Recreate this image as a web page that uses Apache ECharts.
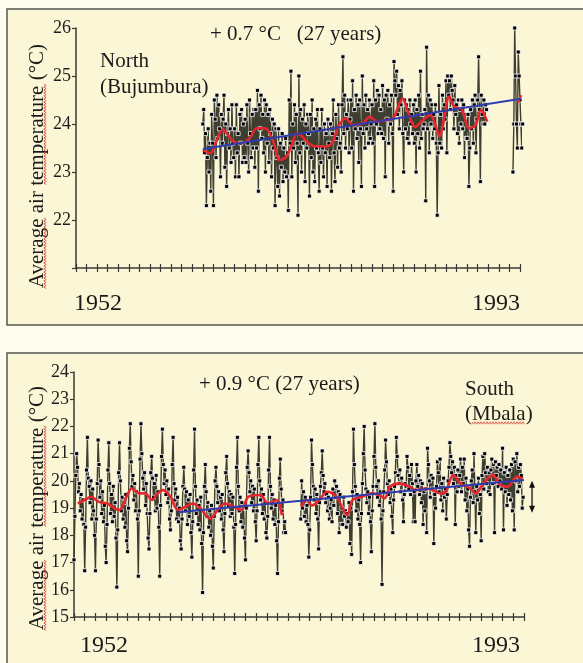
<!DOCTYPE html>
<html><head><meta charset="utf-8">
<script src="https://cdn.jsdelivr.net/npm/echarts@6/dist/echarts.min.js"></script>
<style>html,body{margin:0;padding:0;background:#fdfcef;}#c{width:583px;height:663px;}</style>
</head><body><div id="c"></div>
<script>
// ---------- North (Bujumbura): monthly values, one row per year (Jan..Dec) ----------
const northYears = [1964,1965,1966,1967,1968,1969,1970,1971,1972,1973,1974,1975,1976,1977,1978,1979,1980,1981,1982,1983,1984,1985,1986,1987,1988,1989,1990,1991,1992,1993,1994];
const northValues = [
  [24.0,24.3,23.4,23.8,22.3,23.3,23.9,23.0,23.6,22.6,24.2,23.6],
  [22.3,24.5,24.1,23.3,24.6,23.7,24.4,23.9,22.9,24.2,23.6,24.1],
  [24.6,23.1,24.0,22.7,23.8,24.3,23.5,23.9,23.2,24.4,23.6,23.3],
  [23.9,22.9,24.4,23.4,23.8,22.9,24.2,23.6,24.3,23.2,24.0,23.3],
  [24.1,23.2,24.4,23.6,23.0,24.5,23.8,23.3,24.2,23.5,24.3,23.1],
  [24.3,23.5,24.7,22.6,24.4,23.9,24.6,23.7,24.2,23.4,24.5,23.0],
  [24.4,23.6,24.2,23.2,24.3,23.8,22.9,24.1,23.5,24.0,22.3,23.9],
  [23.3,22.7,23.9,22.5,23.6,23.1,23.8,22.8,23.5,23.0,23.7,22.9],
  [23.4,22.2,24.5,23.6,25.1,22.9,24.0,23.5,24.4,23.2,24.2,23.6],
  [22.1,25.0,23.4,24.3,23.0,24.1,23.6,24.4,22.8,24.0,23.5,24.2],
  [23.8,22.5,24.2,23.3,24.5,23.0,23.9,22.8,24.1,23.5,24.3,23.4],
  [22.6,23.9,23.2,24.3,23.5,22.9,24.0,23.4,23.8,22.7,24.1,23.6],
  [23.3,24.0,22.6,23.8,24.5,23.4,22.8,24.2,23.7,23.1,24.4,23.5],
  [23.6,23.0,24.4,25.4,23.8,24.6,23.5,24.2,23.9,24.5,23.4,24.1],
  [24.5,23.5,24.9,22.6,24.3,23.9,24.6,23.7,24.4,23.2,24.5,23.9],
  [22.7,25.0,23.8,24.4,23.5,24.6,23.9,24.3,23.6,24.5,23.7,24.0],
  [24.4,23.6,24.9,22.7,24.5,24.0,24.7,23.8,24.6,23.9,24.3,23.8],
  [24.8,23.7,24.5,22.9,24.6,24.1,24.7,23.6,24.4,24.0,24.6,23.8],
  [22.6,25.3,24.9,24.6,25.1,24.2,24.8,23.9,24.7,24.4,24.9,23.8],
  [23.0,24.5,23.9,24.4,23.7,24.3,23.6,24.5,24.0,24.2,23.8,24.4],
  [23.6,24.5,23.0,24.3,23.8,24.6,23.5,25.1,23.7,24.2,23.9,24.0],
  [24.3,22.4,25.6,23.9,24.6,23.4,24.5,24.0,24.4,23.7,24.2,23.9],
  [24.4,23.6,22.1,23.4,24.8,23.6,24.2,23.5,24.6,23.9,24.4,24.1],
  [24.9,23.4,25.0,24.6,24.9,24.3,25.0,24.7,24.5,23.9,24.8,24.2],
  [24.4,23.8,24.5,23.6,24.3,24.0,24.5,23.9,24.4,23.3,24.2,23.7],
  [23.7,24.2,22.7,23.5,24.3,23.9,24.5,23.6,24.4,24.6,23.4,24.1],
  [24.5,25.4,24.3,22.8,24.6,24.2,24.0,24.5,24.0,24.4,24.3,null],
  [null,null,null,null,null,null,null,null,null,null,null,null],
  [null,null,null,null,null,null,null,null,null,null,null,null],
  [null,null,null,null,23.0,24.0,26.0,25.0,24.0,23.5,25.5,25.0],
  [24.5,24.0,23.5,24.0,null,null,null,null,null,null,null,null]
];
// running mean (red)
const northMeanX = [1964.0,1964.7,1965.2,1965.9,1966.4,1966.9,1967.6,1968.4,1969.1,1969.9,1970.6,1971.3,1971.9,1972.4,1972.9,1973.4,1974.0,1974.7,1975.5,1976.2,1976.8,1977.5,1978.2,1979.1,1979.8,1980.5,1981.3,1982.0,1982.6,1982.9,1983.4,1984.1,1984.8,1985.5,1986.1,1986.4,1986.8,1987.3,1987.8,1988.5,1989.2,1989.8,1990.3,1990.9,null,1993.8,1994.1];
const northMeanY = [23.46,23.39,23.6,23.88,23.77,23.63,23.6,23.7,23.91,23.91,23.67,23.25,23.32,23.56,23.8,23.74,23.6,23.53,23.53,23.6,23.94,24.12,23.98,24.01,24.15,24.05,24.08,24.12,24.43,24.53,24.26,23.94,24.08,24.19,23.91,23.74,24.08,24.57,24.36,24.29,23.91,23.98,24.29,24.05,null,24.45,24.6];
// linear trend (blue)
const northTrendX = [1964.0, 1994.5];
const northTrendY = [23.48, 24.54];

// ---------- South (Mbala) ----------
const southYears = [1952,1953,1954,1955,1956,1957,1958,1959,1960,1961,1962,1963,1964,1965,1966,1967,1968,1969,1970,1971,1972,1973,1974,1975,1976,1977,1978,1979,1980,1981,1982,1983,1984,1985,1986,1987,1988,1989,1990,1991,1992,1993];
const southValues = [
  [17.1,18.7,20.2,21.0,20.5,19.6,19.9,18.9,19.5,18.6,19.3,18.4],
  [16.7,18.3,20.4,21.6,20.1,19.8,19.2,20.0,18.6,19.7,18.9,18.0],
  [16.7,18.6,19.9,21.5,20.6,19.4,20.0,18.8,19.6,18.5,19.1,17.6],
  [17.0,18.4,20.4,21.4,19.9,18.8,19.5,18.5,19.8,18.7,19.2,17.9],
  [16.1,18.2,20.3,21.4,20.0,18.9,19.4,18.6,19.2,18.3,19.5,17.8],
  [17.4,19.0,21.2,22.1,20.7,19.8,20.2,19.3,19.9,18.9,19.6,18.6],
  [16.5,18.9,20.8,22.1,21.0,20.1,19.7,20.3,19.1,19.9,18.8,17.9],
  [17.5,18.8,20.3,20.9,20.1,19.4,19.9,18.9,20.2,19.0,19.6,18.3],
  [16.5,19.1,20.9,21.9,20.6,19.9,20.4,19.5,20.0,19.2,19.7,18.6],
  [18.2,18.9,20.6,21.6,19.9,19.3,19.7,18.6,19.4,18.5,19.0,17.8],
  [17.5,18.6,19.8,20.5,19.7,18.9,19.6,18.4,19.3,18.7,19.5,18.1],
  [17.2,18.5,20.4,21.9,19.8,18.8,19.3,18.4,19.1,18.2,19.4,17.7],
  [15.9,18.1,19.8,20.6,19.6,18.7,19.2,18.3,18.9,18.0,19.1,17.6],
  [16.8,18.7,20.0,20.5,19.8,19.2,19.6,18.9,19.4,18.6,19.5,18.2],
  [17.4,18.8,20.3,20.9,19.9,19.1,19.6,18.7,19.5,18.8,19.4,18.3],
  [16.6,18.4,20.5,21.6,19.8,18.9,19.4,18.5,19.2,18.3,19.0,17.9],
  [17.1,19.0,20.5,21.1,20.3,19.6,20.0,19.2,19.8,18.9,19.7,18.5],
  [17.8,18.9,20.6,21.6,20.0,19.3,19.7,18.8,19.5,18.6,19.2,18.1],
  [17.9,18.7,20.4,21.6,19.8,19.0,19.5,18.6,19.3,18.4,19.1,17.8],
  [16.6,18.5,20.1,20.8,19.7,18.9,19.3,18.1,18.5,18.1,null,null],
  [null,null,null,null,null,null,null,null,null,null,null,null],
  [null,null,18.6,20.0,19.0,19.6,18.7,19.4,18.5,19.1,18.4,17.2],
  [18.2,19.4,21.5,20.6,19.8,19.3,19.7,18.8,19.5,18.6,17.5,19.2],
  [19.8,20.3,21.1,20.2,19.6,19.9,19.2,19.5,18.9,19.4,18.6,19.0],
  [19.3,18.5,19.7,19.1,20.0,19.4,19.8,18.8,19.6,18.1,19.5,18.4],
  [19.0,18.4,19.4,18.7,18.9,18.3,18.8,18.5,19.2,17.7,19.0,17.3],
  [19.6,21.9,20.6,19.8,18.9,19.5,18.6,19.3,18.4,17.0,18.8,19.9],
  [21.0,22.0,20.4,19.7,19.2,19.6,18.8,19.4,18.5,17.4,18.9,19.8],
  [20.9,22.1,20.5,19.8,19.4,20.0,19.1,19.6,18.6,16.2,18.9,19.6],
  [20.4,21.5,20.7,19.9,19.5,20.0,19.2,19.7,18.7,18.1,19.3,19.8],
  [20.3,21.6,20.9,20.2,19.9,20.4,19.6,20.1,19.3,18.5,19.5,19.9],
  [19.8,20.9,20.5,19.7,20.2,19.5,20.6,19.9,18.5,19.6,18.5,20.0],
  [20.6,19.8,20.2,19.5,20.0,19.2,19.9,18.4,19.6,18.9,19.7,18.1],
  [21.2,20.6,20.0,19.4,20.2,19.7,20.1,17.7,19.5,19.0,19.8,20.7],
  [20.3,19.6,20.8,19.3,19.9,18.9,20.1,19.4,19.7,18.6,19.5,20.0],
  [20.5,21.4,20.9,20.3,20.7,19.9,20.5,18.4,20.2,19.6,20.4,19.8],
  [20.2,20.8,19.6,20.5,19.9,20.8,19.3,20.1,18.9,19.7,18.2,17.6],
  [19.4,20.0,20.4,19.2,21.0,19.6,18.1,19.8,19.3,20.1,18.8,19.5],
  [17.8,20.2,20.9,19.7,21.0,20.3,19.9,20.5,19.6,20.3,19.5,20.4],
  [20.8,19.9,20.6,18.1,20.7,20.2,20.5,19.8,20.6,20.0,20.4,19.7],
  [21.2,18.2,20.3,19.6,20.5,19.1,20.2,19.5,20.4,19.3,20.6,18.9],
  [20.8,18.2,20.7,20.0,21.0,19.6,20.5,19.8,20.6,20.2,19.0,19.4]
];
const southMeanX = [1952.35,1953.0,1953.6,1954.3,1955.1,1956.2,1956.9,1957.4,1958.1,1958.6,1959.3,1959.8,1960.3,1961.0,1961.7,1962.4,1963.1,1963.8,1964.7,1965.4,1966.1,1966.9,1967.6,1968.3,1969.4,1970.1,1970.9,1971.4,null,1973.2,1973.7,1974.2,1974.9,1975.6,1976.5,1977.0,1977.5,1978.0,1978.9,1979.8,1980.5,1981.0,1981.5,1982.4,1983.3,1983.9,1984.8,1985.5,1986.2,1986.7,1987.4,1988.1,1989.0,1989.5,1990.2,1991.1,1991.8,1992.5,1993.3,1993.9];
const southMeanY = [19.17,19.3,19.42,19.23,19.17,18.93,19.42,19.72,19.54,19.54,19.3,19.54,19.66,19.42,18.93,19.05,19.17,18.99,18.62,18.93,19.17,19.05,18.93,19.42,19.48,19.17,19.3,18.74,null,19.05,19.3,19.1,19.3,19.6,19.42,19.05,18.74,19.3,19.42,19.54,19.48,19.36,19.79,19.9,19.79,19.66,19.72,19.66,19.54,19.6,20.21,19.9,19.72,19.54,19.9,20.21,19.85,19.79,20.15,20.09];
const southTrendX = [1961.7, 1994.0];
const southTrendY = [18.85, 20.03];
const southRangeY = [18.87, 19.97];   // double-arrow span
const southArrowYear = 1994.75;

const northTicks = [22,23,24,25,26];
const southTicks = [15,16,17,18,19,20,21,22,23,24];

// ---------- helpers ----------
function monthly(years, rows){
  const out = [];
  years.forEach((y,i)=>rows[i].forEach((v,m)=>out.push([y + m/12, v==null ? '-' : v])));
  return out;
}
function pairs(xs, ys){ return xs.map((x,i)=> x==null ? ['-','-'] : [x, ys[i]]); }

const SERIF = "'Liberation Serif','Times New Roman',serif";
const axisCol = '#3a3a34';

function xAxes(gi){
  const base = {type:'value', gridIndex:gi, min:1952, max:1994, interval:1, position:'bottom', offset:0,
    axisLabel:{show:false}, splitLine:{show:false}};
  return [
    Object.assign({}, base, {axisLine:{show:true, onZero:false, lineStyle:{color:axisCol, width:1.5}},
      axisTick:{show:true, length:4, lineStyle:{color:axisCol, width:1.2}}}),
    Object.assign({}, base, {axisLine:{show:false, onZero:false}, axisTick:{show:true, inside:true, length:4, lineStyle:{color:axisCol, width:1.2}}})
  ];
}
function yAxis(gi, min, max, ticks){
  return {type:'value', gridIndex:gi, min:min, max:max, interval:1,
    axisLine:{show:true, lineStyle:{color:axisCol, width:1.5}},
    axisTick:{show:true, length:4, lineStyle:{color:axisCol, width:1.2}},
    splitLine:{show:false},
    axisLabel:{margin:5, color:'#1e1e1e', fontFamily:SERIF, fontSize:18,
      formatter: v => ticks.indexOf(v) >= 0 ? String(v) : ''}};
}
function dataSeries(xi, yi, data){
  return {type:'line', xAxisIndex:xi, yAxisIndex:yi, data:data, clip:false, z:2,
    symbol:'rect', symbolSize:4, showSymbol:true, showAllSymbol:true,
    itemStyle:{color:'#000', borderColor:'#fff', borderWidth:0.8},
    lineStyle:{color:'#3e3e30', width:1.4}, animation:false, connectNulls:false};
}
function meanSeries(xi, yi, data){
  return {type:'line', xAxisIndex:xi, yAxisIndex:yi, data:data, clip:false, z:3,
    symbol:'none', smooth:0.35, lineStyle:{color:'#e5262c', width:2.6}, animation:false};
}
function trendSeries(xi, yi, data){
  return {type:'line', xAxisIndex:xi, yAxisIndex:yi, data:data, clip:false, z:4,
    symbol:'none', lineStyle:{color:'#2d3cae', width:2}, animation:false};
}

const chart = echarts.init(document.getElementById('c'), null, {renderer:'canvas'});
chart.setOption({
  backgroundColor:'transparent',
  animation:false,
  grid:[
    {left:76, top:28, width:444, height:240},
    {left:74, top:372, width:450, height:245}
  ],
  xAxis:[].concat(xAxes(0), xAxes(1)),
  yAxis:[yAxis(0,21,26,northTicks), yAxis(1,15,24,southTicks)],
  series:[
    dataSeries(0,0, monthly(northYears, northValues)),
    meanSeries(0,0, pairs(northMeanX, northMeanY)),
    trendSeries(0,0, pairs(northTrendX, northTrendY)),
    dataSeries(2,1, monthly(southYears, southValues)),
    meanSeries(2,1, pairs(southMeanX, southMeanY)),
    trendSeries(2,1, pairs(southTrendX, southTrendY))
  ]
});

// annotations
const ax = chart.convertToPixel({xAxisIndex:2}, southArrowYear);
const ay1 = chart.convertToPixel({yAxisIndex:1}, southRangeY[1]);
const ay2 = chart.convertToPixel({yAxisIndex:1}, southRangeY[0]);

function txt(text, x, y, size){
  return {type:'text', z:10, style:{text:text, x:x, y:y, fill:'#1a1a1a',
    font: size + 'px ' + SERIF, textAlign:'left', textVerticalAlign:'middle'}};
}
function vtxt(text, cx, cy, size){
  return {type:'text', z:10, x:cx, y:cy, rotation:Math.PI/2,
    style:{text:text, x:0, y:0, fill:'#1a1a1a', font: size+'px '+SERIF, textAlign:'center', textVerticalAlign:'middle'}};
}
// spell-check style wavy underline (decoration)
function squiggle(x1, y1, x2, y2){
  const pts = []; const vertical = x1 === x2;
  const len = vertical ? Math.abs(y2 - y1) : Math.abs(x2 - x1);
  for (let s = 0, k = 0; s <= len; s += 1.5, k++) {
    const off = (k % 2) ? 1.2 : -1.2;
    pts.push(vertical ? [x1 + off, Math.min(y1,y2) + s] : [Math.min(x1,x2) + s, y1 + off]);
  }
  return {type:'polyline', z:11, shape:{points:pts}, style:{stroke:'#d83a3a', lineWidth:0.8, fill:null}};
}

chart.setOption({graphic:[
  {type:'rect', z:-5, shape:{x:7, y:9, width:600, height:316}, style:{fill:'#fbf7d6', stroke:'#55554c', lineWidth:1.5}},
  {type:'rect', z:-5, shape:{x:7, y:353, width:600, height:330}, style:{fill:'#fbf7d6', stroke:'#55554c', lineWidth:1.5}},
  txt('+ 0.7 \u00B0C   (27 years)', 210, 34, 21),
  txt('North', 100, 61, 21),
  txt('(Bujumbura)', 100, 87, 21),
  txt('1952', 74, 304, 24),
  txt('1993', 472, 304, 24),
  vtxt('Average air temperature (\u00B0C)', 37, 166, 21),
  squiggle(45, 218, 45, 289),
  squiggle(45, 84, 45, 185),
  txt('+ 0.9 \u00B0C (27 years)', 199, 384, 21),
  txt('South', 465, 389, 21),
  txt('(Mbala)', 465, 414, 21),
  squiggle(472, 423, 525, 423),
  txt('1952', 80, 646, 24),
  txt('1993', 472, 646, 24),
  vtxt('Average air temperature (\u00B0C)', 37, 508, 21),
  squiggle(45, 560, 45, 631),
  squiggle(45, 426, 45, 527),
  {type:'line', z:10, shape:{x1:ax, y1:ay1+4, x2:ax, y2:ay2-4}, style:{stroke:'#111', lineWidth:1.3}},
  {type:'polygon', z:10, shape:{points:[[ax, ay1-1],[ax-3, ay1+6],[ax+3, ay1+6]]}, style:{fill:'#111'}},
  {type:'polygon', z:10, shape:{points:[[ax, ay2+1],[ax-3, ay2-6],[ax+3, ay2-6]]}, style:{fill:'#111'}}
]});
</script>
</body></html>
